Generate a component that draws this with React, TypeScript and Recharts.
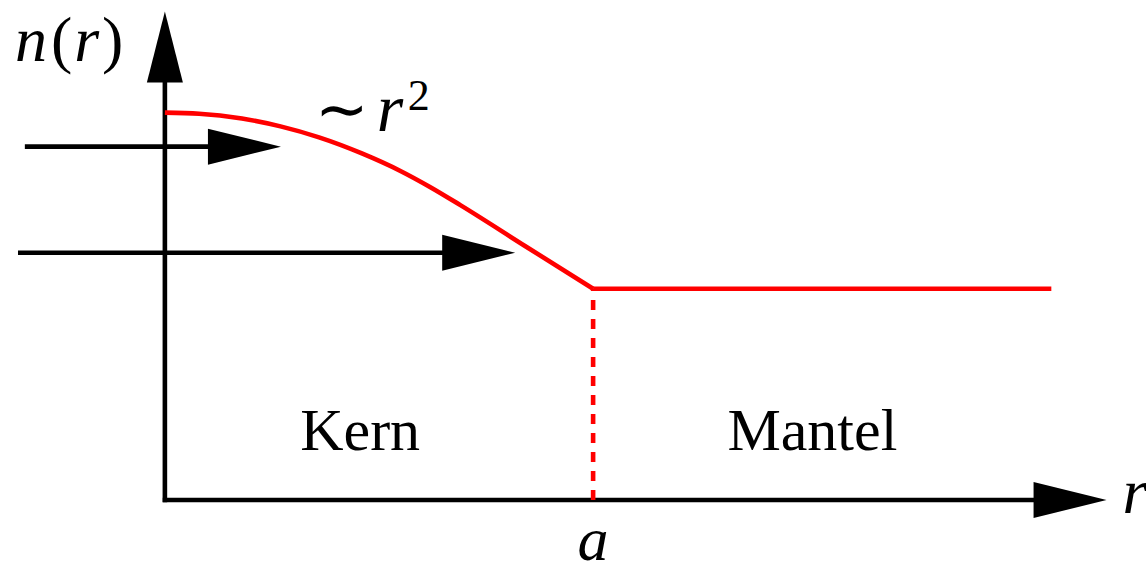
import React from 'react';
import { ComposedChart, Line, XAxis, YAxis, ReferenceLine, ReferenceDot } from 'recharts';

// Refractive index profile of a graded-index fibre; r is given in units of the core radius a.
const coreRadius = [0, 0.08, 0.18, 0.27, 0.36, 0.46, 0.55, 0.62, 0.69, 0.84, 1];
const coreIndex = [1.834, 1.829, 1.806, 1.769, 1.717, 1.641, 1.558, 1.481, 1.396, 1.204, 1];
const claddingRadius = [1, 2.07];
const claddingIndex = [1, 1];

// Incoming rays (start, arrow tip, height)
const rayStart = [-0.327, -0.343];
const rayTip = [0.271, 0.818];
const rayHeight = [1.673, 1.171];

const radiusTicks = [1];
const regionNames = ['Kern', 'Mantel'];
const regionCenters = [0.456, 1.512];

const R_MIN = -0.35;
const R_MAX = 2.2;
const N_MAX = 2.32;
const N_TIP = 2.313;

// one row per radius; the shared point r = 1 carries both series
const rows: { r: number; core: number | null; clad: number | null }[] = [];
coreRadius.forEach((r, i) => rows.push({ r, core: coreIndex[i], clad: null }));
claddingRadius.forEach((r, i) => {
  const hit = rows.find((o) => o.r === r);
  if (hit) hit.clad = claddingIndex[i];
  else rows.push({ r, core: null, clad: claddingIndex[i] });
});

const FONT = '"Liberation Serif", "Times New Roman", serif';
const LW = 4.6;
const HEAD_LEN = 73;
const HEAD_HALF = 18;

const RightHead = (p: any) => (
  <polygon
    points={`${p.cx},${p.cy} ${p.cx - HEAD_LEN},${p.cy - HEAD_HALF} ${p.cx - HEAD_LEN},${p.cy + HEAD_HALF}`}
    fill="#000"
  />
);

const UpHead = (p: any) => (
  <polygon
    points={`${p.cx},${p.cy} ${p.cx - HEAD_HALF},${p.cy + 71} ${p.cx + HEAD_HALF},${p.cy + 71}`}
    fill="#000"
  />
);

const RadiusTick = (p: any) => (
  <text x={p.x} y={p.y + 60} textAnchor="middle" fontFamily={FONT} fontStyle="italic" fontSize={62} fill="#000">
    a
  </text>
);

export default function App() {
  const headR = HEAD_LEN / 428;
  return (
    <div style={{ position: 'absolute', left: 0, top: 0, background: '#fff' }}>
      <ComposedChart width={1146} height={574} data={rows} margin={{ top: 10, right: 39, bottom: 0, left: 15 }}>
        <XAxis
          dataKey="r"
          type="number"
          domain={[R_MIN, R_MAX]}
          ticks={radiusTicks}
          tickFormatter={() => 'a'}
          axisLine={false}
          tickLine={false}
          tickSize={0}
          tickMargin={0}
          height={74}
          tick={<RadiusTick />}
          allowDataOverflow
        />
        <YAxis type="number" domain={[0, N_MAX]} hide allowDataOverflow />

        {/* axes */}
        <ReferenceLine
          segment={[{ x: -0.005, y: 0 }, { x: R_MAX - headR * 0.7, y: 0 }]}
          stroke="#000"
          strokeWidth={LW}
          ifOverflow="visible"
        />
        <ReferenceLine
          segment={[{ x: 0, y: -0.011 }, { x: 0, y: N_TIP - 0.24 }]}
          stroke="#000"
          strokeWidth={LW}
          ifOverflow="visible"
        />
        <ReferenceDot x={R_MAX - 0.001} y={0} r={0} shape={<RightHead />} ifOverflow="visible" />
        <ReferenceDot x={0} y={N_TIP} r={0} shape={<UpHead />} ifOverflow="visible" />

        {/* rays */}
        {rayStart.map((s, i) => (
          <ReferenceLine
            key={`ray${i}`}
            segment={[{ x: s, y: rayHeight[i] }, { x: rayTip[i] - headR * 0.7, y: rayHeight[i] }]}
            stroke="#000"
            strokeWidth={LW}
            ifOverflow="visible"
          />
        ))}
        {rayTip.map((t, i) => (
          <ReferenceDot key={`head${i}`} x={t} y={rayHeight[i]} r={0} shape={<RightHead />} ifOverflow="visible" />
        ))}

        <Line dataKey="core" type="monotone" stroke="#ff0000" strokeWidth={LW} dot={false} isAnimationActive={false} />
        <Line dataKey="clad" type="linear" stroke="#ff0000" strokeWidth={LW} dot={false} isAnimationActive={false} />

        {/* core / cladding boundary */}
        <ReferenceLine
          segment={[{ x: 1, y: 0 }, { x: 1, y: 1 }]}
          stroke="#ff0000"
          strokeWidth={LW}
          strokeDasharray="10 9"
          ifOverflow="visible"
        />

        {/* labels */}
        <ReferenceDot
          x={0}
          y={N_TIP}
          r={0}
          ifOverflow="visible"
          shape={(p: any) => (
            <text x={p.cx - 150} y={p.cy + 50} fontFamily={FONT} fontSize={64} fill="#000">
              <tspan fontStyle="italic">n</tspan>
              <tspan dx={4}>(</tspan>
              <tspan dx={2} fontStyle="italic">r</tspan>
              <tspan dx={3}>)</tspan>
            </text>
          )}
        />
        <ReferenceDot
          x={0.35}
          y={1.749}
          r={0}
          ifOverflow="visible"
          shape={(p: any) => (
            <g fontFamily={FONT} fill="#000">
              <text x={p.cx} y={p.cy} fontSize={64}>∼</text>
              <text x={p.cx + 62} y={p.cy} fontSize={68} fontStyle="italic">r</text>
              <text x={p.cx + 93} y={p.cy - 21} fontSize={44}>2</text>
            </g>
          )}
        />
        {regionNames.map((name, i) => (
          <ReferenceDot
            key={name}
            x={regionCenters[i]}
            y={0.237}
            r={0}
            ifOverflow="visible"
            shape={(p: any) => (
              <text x={p.cx} y={p.cy} textAnchor="middle" fontFamily={FONT} fontSize={60} fill="#000">
                {name}
              </text>
            )}
          />
        ))}
        <ReferenceDot
          x={R_MAX - 0.001}
          y={0}
          r={0}
          ifOverflow="visible"
          shape={(p: any) => (
            <text x={p.cx + 16} y={p.cy + 13} fontFamily={FONT} fontStyle="italic" fontSize={64} fill="#000">
              r
            </text>
          )}
        />
      </ComposedChart>
    </div>
  );
}
